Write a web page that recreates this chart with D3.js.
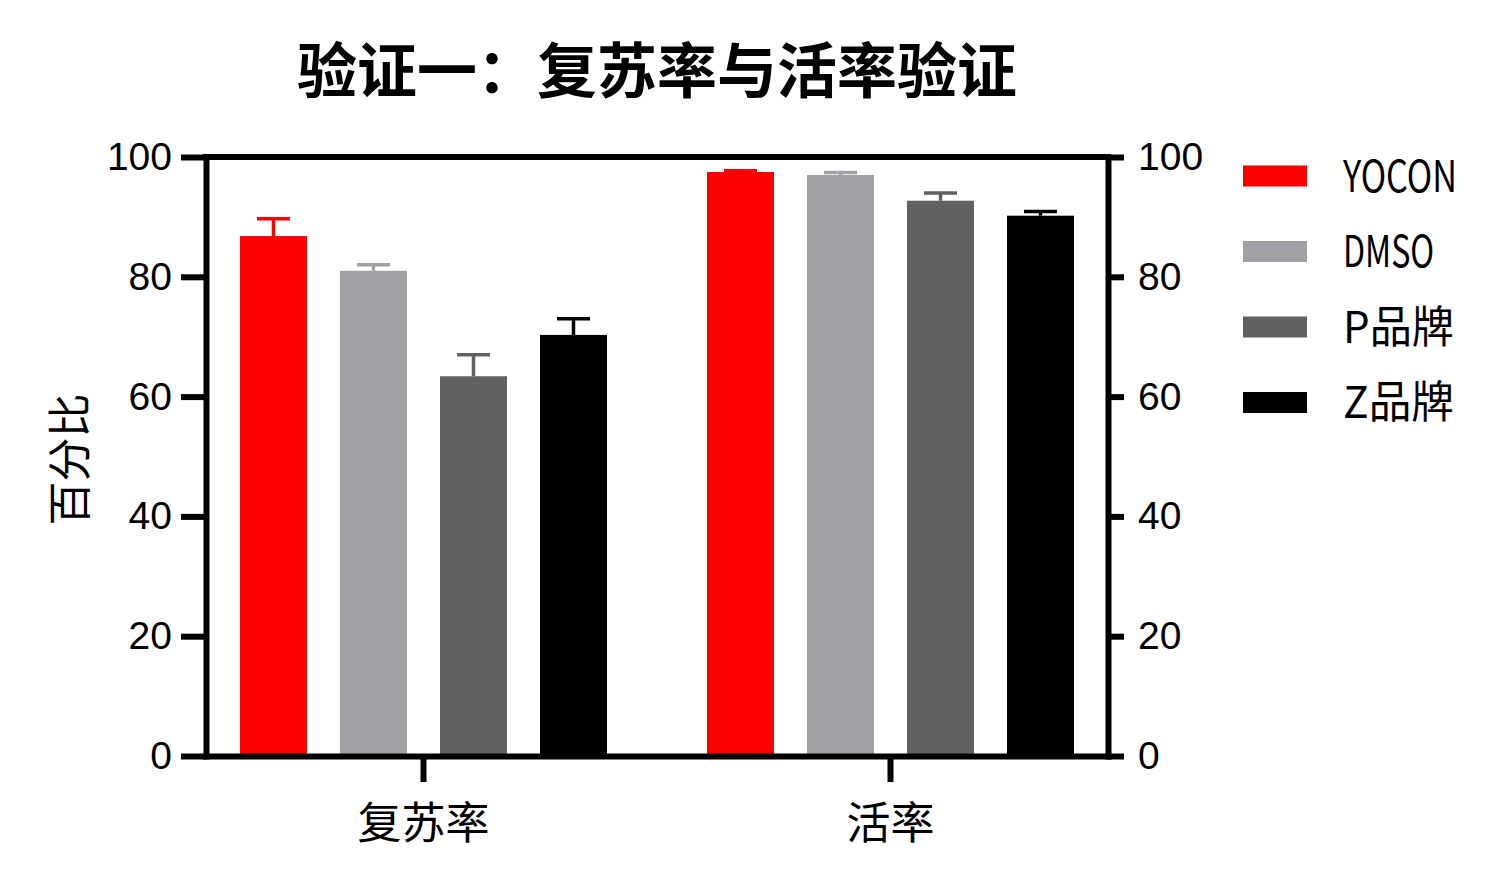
<!DOCTYPE html>
<html>
<head>
<meta charset="utf-8">
<script src="https://cdn.jsdelivr.net/npm/d3@7"></script>
<style>
  body { margin: 0; background: #fff; }
  text { font-family: "Noto Sans CJK SC", "Noto Sans", sans-serif; fill: #000; }
</style>
</head>
<body>
<div id="plt"></div>
<script>
// data
var groups = ["复苏率", "活率"];
var brands = ["YOCON", "DMSO", "P品牌", "Z品牌"];
var colors = ["#ff0000", "#a2a1a6", "#616161", "#000000"];
var yocon = [86.8, 97.5];
var dmso  = [81.0, 97.0];
var pBrand = [63.4, 92.7];
var zBrand = [70.3, 90.2];
var yoconErr = [2.9, 0.2];
var dmsoErr  = [1.0, 0.4];
var pErr = [3.6, 1.3];
var zErr = [2.7, 0.7];
var yTicks = [0, 20, 40, 60, 80, 100];

var series = [yocon, dmso, pBrand, zBrand];
var errs = [yoconErr, dmsoErr, pErr, zErr];

// plot box
var W = 1503, H = 885;
var pLeft = 206, pRight = 1108, pTop = 157, pBottom = 756;
var lw = 6;

var svg = d3.select("#plt").append("svg")
  .attr("width", W).attr("height", H);

var x0 = d3.scaleBand().domain(groups).range([pLeft, pRight])
  .paddingInner(100 / 467).paddingOuter(34 / 467);
var x1 = d3.scaleBand().domain(brands).range([0, x0.bandwidth()])
  .paddingInner(0.33).paddingOuter(0);
var y = d3.scaleLinear().domain([0, 100]).range([pBottom, pTop]);

// one row per bar
var rows = [];
groups.forEach(function(g, gi) {
  brands.forEach(function(b, bi) {
    rows.push({ g: g, b: b, v: series[bi][gi], e: errs[bi][gi], c: colors[bi] });
  });
});

function cx(d) { return x0(d.g) + x1(d.b) + x1.bandwidth() / 2; }

// error bars (upper only), drawn under the bars
var eb = svg.append("g").selectAll("g").data(rows).enter().append("g")
  .attr("stroke", function(d) { return d.c; })
  .attr("stroke-width", 3.5);
eb.append("line")
  .attr("x1", cx).attr("x2", cx)
  .attr("y1", function(d) { return y(d.v); })
  .attr("y2", function(d) { return y(d.v + d.e); });
eb.append("line")
  .attr("x1", function(d) { return cx(d) - 16.5; })
  .attr("x2", function(d) { return cx(d) + 16.5; })
  .attr("y1", function(d) { return y(d.v + d.e); })
  .attr("y2", function(d) { return y(d.v + d.e); });

// bars
svg.append("g").selectAll("rect").data(rows).enter().append("rect")
  .attr("x", function(d) { return x0(d.g) + x1(d.b); })
  .attr("y", function(d) { return y(d.v); })
  .attr("width", x1.bandwidth())
  .attr("height", function(d) { return y(0) - y(d.v); })
  .attr("fill", function(d) { return d.c; });

// axes
function styleAxis(g) {
  g.selectAll("path, line").attr("stroke", "#000").attr("stroke-width", lw);
  g.select(".domain").attr("stroke-linecap", "square");
  g.selectAll("text").style("font-family", "Liberation Sans, Arial, sans-serif")
    .attr("font-size", 39).attr("fill", "#000");
}

svg.append("g")
  .attr("transform", "translate(" + pLeft + ",0)")
  .call(d3.axisLeft(y).tickValues(yTicks).tickSize(25).tickSizeOuter(0).tickPadding(9))
  .call(styleAxis);

svg.append("g")
  .attr("transform", "translate(" + pRight + ",0)")
  .call(d3.axisRight(y).tickValues(yTicks).tickSize(16).tickSizeOuter(0).tickPadding(14))
  .call(styleAxis);

var xa = svg.append("g")
  .attr("transform", "translate(0," + pBottom + ")")
  .call(d3.axisBottom(x0).tickSize(26).tickSizeOuter(0).tickPadding(26))
  .call(styleAxis);
xa.selectAll("text").style("font-family", "Noto Sans CJK SC").attr("font-size", 44);

// top border
svg.append("line")
  .attr("x1", pLeft).attr("x2", pRight)
  .attr("y1", pTop).attr("y2", pTop)
  .attr("stroke", "#000").attr("stroke-width", lw).attr("stroke-linecap", "square");

// title
svg.append("text")
  .attr("x", (pLeft + pRight) / 2).attr("y", 93)
  .attr("text-anchor", "middle")
  .attr("font-size", 60).attr("font-weight", "bold")
  .text("验证一：复苏率与活率验证");

// y label
svg.append("text")
  .attr("transform", "translate(69," + ((pTop + pBottom) / 2 + 3) + ") rotate(-90)")
  .attr("text-anchor", "middle").attr("dy", "0.38em")
  .attr("font-size", 44)
  .text("百分比");

// legend
var leg = svg.append("g").selectAll("g").data(brands).enter().append("g")
  .attr("transform", function(d, i) { return "translate(1243," + (176 + i * 75.5) + ")"; });
leg.append("rect")
  .attr("x", 0).attr("y", -10.5).attr("width", 64).attr("height", 21)
  .attr("fill", function(d, i) { return colors[i]; });
leg.append("text")
  .attr("x", 100).attr("dy", "0.36em")
  .attr("font-size", 44)
  .attr("textLength", function(d) {
    var n = 0;
    for (var k = 0; k < d.length; k++) n += d.charCodeAt(k) > 255 ? 44 : 22.8;
    return n;
  })
  .attr("lengthAdjust", "spacingAndGlyphs")
  .text(function(d) { return d; });
</script>
</body>
</html>
